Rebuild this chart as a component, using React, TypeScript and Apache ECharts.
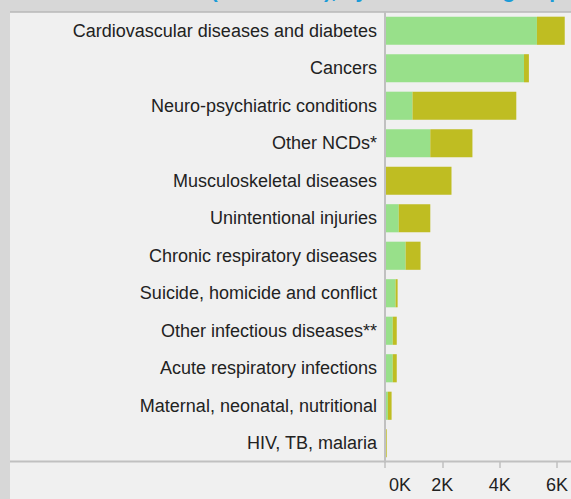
import React, { useEffect, useRef } from "react";
import * as echarts from "echarts";

const categories = [
  "Cardiovascular diseases and diabetes",
  "Cancers",
  "Neuro-psychiatric conditions",
  "Other NCDs*",
  "Musculoskeletal diseases",
  "Unintentional injuries",
  "Chronic respiratory diseases",
  "Suicide, homicide and conflict",
  "Other infectious diseases**",
  "Acute respiratory infections",
  "Maternal, neonatal, nutritional",
  "HIV, TB, malaria",
];

// thousands
const yllValues = [5.3, 4.85, 0.96, 1.58, 0, 0.48, 0.72, 0.37, 0.27, 0.27, 0.1, 0.01];
const yldValues = [0.97, 0.17, 3.62, 1.47, 2.32, 1.1, 0.52, 0.07, 0.14, 0.14, 0.13, 0.05];

const xTicks = [0, 2, 4, 6];

const titleText = "DALYs (thousands), by broad cause group";

const FONT = "'Liberation Sans', Arial, sans-serif";

export default function App() {
  const ref = useRef<HTMLDivElement>(null);

  useEffect(() => {
    document.body.style.margin = "0";
    if (!ref.current) return;
    const chart = echarts.init(ref.current, null, { renderer: "svg" });
    chart.setOption({
      animation: false,
      backgroundColor: "#d7d7d7",
      textStyle: { fontFamily: FONT },
      graphic: [
        {
          type: "rect",
          z: -10,
          shape: { x: 10, y: 12, width: 561, height: 487 },
          style: { fill: "#f0f0f0" },
        },
        {
          type: "line",
          z: -5,
          shape: { x1: 10, y1: 12, x2: 571, y2: 12 },
          style: { stroke: "#b8b8b8", lineWidth: 1.5 },
        },
        {
          type: "line",
          z: -5,
          shape: { x1: 10, y1: 461.5, x2: 571, y2: 461.5 },
          style: { stroke: "#c0c0c0", lineWidth: 2 },
        },
        {
          type: "text",
          x: 562,
          y: 1,
          style: {
            text: titleText,
            fill: "#1a9bd7",
            font: `bold 21px ${FONT}`,
            align: "right",
            verticalAlign: "bottom",
          },
        },
      ],
      grid: { left: 385, top: 12, height: 450, right: 0 },
      xAxis: {
        type: "value",
        min: 0,
        max: 6.4,
        splitLine: { show: false },
        axisLine: { show: false },
        axisTick: {
          show: true,
          customValues: xTicks,
          length: 6,
          lineStyle: { color: "#c0c0c0", width: 1.5 },
        },
        axisLabel: {
          customValues: xTicks,
          fontSize: 18,
          color: "#222",
          margin: 14,
          fontFamily: FONT,
          formatter: (v: number) => (v === 0 ? "{z|0K}" : `${v}K`),
          rich: {
            z: { fontSize: 18, color: "#222", fontFamily: FONT, padding: [0, 0, 0, 30] },
          },
        },
      },
      yAxis: {
        type: "category",
        inverse: true,
        data: categories,
        z: 5,
        axisTick: { show: false },
        axisLine: { show: true, lineStyle: { color: "#c0c0c0", width: 2 } },
        axisLabel: { fontSize: 18, color: "#222", margin: 8, fontFamily: FONT },
      },
      series: [
        {
          name: "Years of life lost",
          type: "bar",
          stack: "total",
          barCategoryGap: "25%",
          itemStyle: { color: "#98e08a" },
          data: yllValues,
        },
        {
          name: "Years lived with disability",
          type: "bar",
          stack: "total",
          barCategoryGap: "25%",
          itemStyle: { color: "#bfbd22" },
          data: yldValues,
        },
      ],
    });
    return () => chart.dispose();
  }, []);

  return <div ref={ref} style={{ width: 571, height: 499 }} />;
}
